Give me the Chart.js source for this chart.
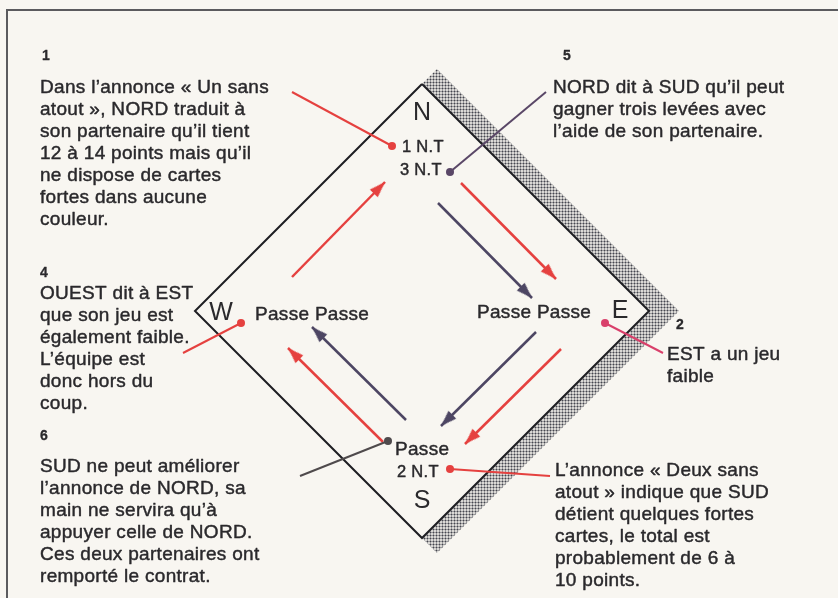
<!DOCTYPE html>
<html lang="fr">
<head>
<meta charset="utf-8">
<title>Les enchères</title>
<script src="https://cdn.jsdelivr.net/npm/chart.js@4/dist/chart.umd.min.js"></script>
<style>
  html, body { margin: 0; padding: 0; background: #f8f6f1; overflow: hidden; }
  #wrap { position: relative; width: 838px; height: 598px; overflow: hidden; }
  #frame { position: absolute; left: 6px; top: 9px; right: -6px; bottom: -6px;
           border-top: 2px solid #5b5b5e; border-left: 2px solid #5b5b5e; }
  canvas { position: absolute; left: 0; top: 0; }
</style>
</head>
<body>
<div id="wrap">
  <div id="frame"></div>
  <canvas id="bidChart" width="838" height="598"></canvas>
</div>
<script>
// Diagram space: origin at the centre of the table, y pointing up
const diamond = [[0, 227], [227, 0], [0, -227], [-227, 0], [0, 227]];
const shadow = [[0, 227], [15, 242], [257, 0], [15, -242], [0, -227], [227, 0], [0, 227]];

const seats = ['N', 'E', 'S', 'W'];
const seatAt = [[0, 191], [198, -7], [0, -197], [-201, -9]];

const bids = ['1 N.T', '3 N.T', 'Passe Passe', 'Passe Passe', 'Passe', '2 N.T'];
const bidAt = [[-20, 159], [-22, 136], [-167, -9], [55, -7], [-27, -144], [-25, -166]];

// [tail, tip]
const redArrows = [
    [[-130, 34], [-37, 129]],
    [[39, 128], [134, 32]],
    [[139, -38], [43, -133]],
    [[-39, -131], [-134, -37]]
];
const darkArrows = [
    [[16, 108], [110, 13]],
    [[114, -21], [19, -115]],
    [[-16, -109], [-110, -16]]
];

// [dot, end of line], one per note 1..6
const callouts = [
    [[-30, 165], [-130, 219]],
    [[183, -12], [241, -42]],
    [[28, -158], [128, -165]],
    [[-181, -12], [-239, -42]],
    [[28, 139], [124, 219]],
    [[-34, -130], [-122, -165]]
];

const noteNumbers = ['1', '2', '', '4', '5', '6'];
const numberAt = [[-380, 251], [254, -18], null, [-382, 34], [141, 251], [-382, -129]];
const notes = [
    ['Dans l’annonce « Un sans', 'atout », NORD traduit à', 'son partenaire qu’il tient',
     '12 à 14 points mais qu’il', 'ne dispose de cartes', 'fortes dans aucune', 'couleur.'],
    ['EST a un jeu', 'faible'],
    ['L’annonce « Deux sans', 'atout » indique que SUD', 'détient quelques fortes',
     'cartes, le total est', 'probablement de 6 à', '10 points.'],
    ['OUEST dit à EST', 'que son jeu est', 'également faible.', 'L’équipe est',
     'donc hors du', 'coup.'],
    ['NORD dit à SUD qu’il peut', 'gagner trois levées avec', 'l’aide de son partenaire.'],
    ['SUD ne peut améliorer', 'l’annonce de NORD, sa', 'main ne servira qu’à',
     'appuyer celle de NORD.', 'Ces deux partenaires ont', 'remporté le contrat.']
];
const noteAt = [[-382, 218], [245, -49], [133, -165], [-382, 12], [131, 218], [-382, -161]];

const RED = '#e5413f';
const DARK = '#4d4663';
const INK = '#2a292c';
const calloutColors = [RED, '#d9406b', RED, RED, '#5a4767', '#4f4a4c'];
const FONT = '"Liberation Sans", Arial, sans-serif';

const canvas = document.getElementById('bidChart');
const ctx = canvas.getContext('2d');

// halftone dots for the shadow
function makeHatch() {
    const tile = document.createElement('canvas');
    tile.width = 3;
    tile.height = 3;
    const g = tile.getContext('2d');
    g.fillStyle = '#dad8d4';
    g.fillRect(0, 0, 3, 3);
    g.fillStyle = '#96969a';
    g.fillRect(0, 1, 3, 1);
    g.fillRect(1, 0, 1, 3);
    g.fillStyle = '#46464c';
    g.fillRect(1, 1, 1, 1);
    return ctx.createPattern(tile, 'repeat');
}

// arrow head image, tip sits on the data point
function makeHead(color) {
    const c = document.createElement('canvas');
    c.width = 12;
    c.height = 36;
    const g = c.getContext('2d');
    g.fillStyle = color;
    g.beginPath();
    g.moveTo(6, 18);
    g.lineTo(11.5, 34);
    g.lineTo(0.5, 34);
    g.closePath();
    g.fill();
    return c;
}

const toXY = pts => pts.map(([x, y]) => ({ x, y }));

function arrowSet(arrow, color, head) {
    const [[x0, y0], [x1, y1]] = arrow;
    const angle = Math.atan2(x1 - x0, y1 - y0) * 180 / Math.PI;
    return {
        data: toXY(arrow),
        showLine: true,
        borderColor: color,
        borderWidth: 2.5,
        pointRadius: [0, 8],
        pointStyle: head,
        pointRotation: angle
    };
}

const datasets = [];
callouts.forEach((c, i) => {
    datasets.push({
        data: toXY(c),
        showLine: true,
        borderColor: calloutColors[i],
        borderWidth: 2,
        pointRadius: [4, 0],
        pointBackgroundColor: calloutColors[i],
        pointBorderWidth: 0
    });
});
const redHead = makeHead(RED);
const darkHead = makeHead(DARK);
redArrows.forEach(a => datasets.push(arrowSet(a, RED, redHead)));
darkArrows.forEach(a => datasets.push(arrowSet(a, DARK, darkHead)));
datasets.push({
    data: toXY(diamond),
    showLine: true,
    borderColor: '#1e1e22',
    borderWidth: 2,
    borderJoinStyle: 'miter',
    pointRadius: 0
});
datasets.push({
    data: toXY(shadow),
    showLine: true,
    borderWidth: 0,
    borderColor: 'rgba(0,0,0,0)',
    backgroundColor: makeHatch(),
    fill: 'shape',
    pointRadius: 0
});

function inkText(ctx, text, x, y, weight) {
    ctx.fillText(text, x, y);
    if (weight) {
        ctx.lineWidth = weight;
        ctx.strokeText(text, x, y);
    }
}

const textPlugin = {
    id: 'diagramText',
    afterDatasetsDraw(chart) {
        const { ctx, scales: { x, y } } = chart;
        const px = v => x.getPixelForValue(v);
        const py = v => y.getPixelForValue(v);
        ctx.save();
        ctx.fillStyle = INK;
        ctx.strokeStyle = INK;
        ctx.lineJoin = 'round';
        ctx.textBaseline = 'alphabetic';

        ctx.textAlign = 'center';
        ctx.font = '25px ' + FONT;
        seats.forEach((s, i) => inkText(ctx, s, px(seatAt[i][0]), py(seatAt[i][1]), 0));

        ctx.textAlign = 'left';
        ctx.letterSpacing = '0.3px';
        bids.forEach((b, i) => {
            ctx.font = (b.includes('N.T') ? '16.5px ' : '19px ') + FONT;
            inkText(ctx, b, px(bidAt[i][0]), py(bidAt[i][1]), 0.45);
        });

        ctx.font = 'bold 14px ' + FONT;
        noteNumbers.forEach((n, i) => {
            if (n) inkText(ctx, n, px(numberAt[i][0]), py(numberAt[i][1]), 0.3);
        });

        ctx.font = '19px ' + FONT;
        notes.forEach((lines, i) => {
            lines.forEach((line, j) => {
                inkText(ctx, line, px(noteAt[i][0]), py(noteAt[i][1]) + j * 22, 0.45);
            });
        });
        ctx.restore();
    }
};

new Chart(ctx, {
    type: 'scatter',
    data: { datasets },
    options: {
        responsive: false,
        maintainAspectRatio: false,
        devicePixelRatio: 1,
        animation: false,
        events: [],
        layout: { padding: 0, autoPadding: false },
        elements: { line: { tension: 0, borderCapStyle: 'butt' } },
        scales: {
            x: { type: 'linear', min: -422, max: 416, display: false },
            y: { type: 'linear', min: -287, max: 311, display: false }
        },
        plugins: {
            legend: { display: false },
            tooltip: { enabled: false }
        }
    },
    plugins: [textPlugin]
});
</script>
</body>
</html>
